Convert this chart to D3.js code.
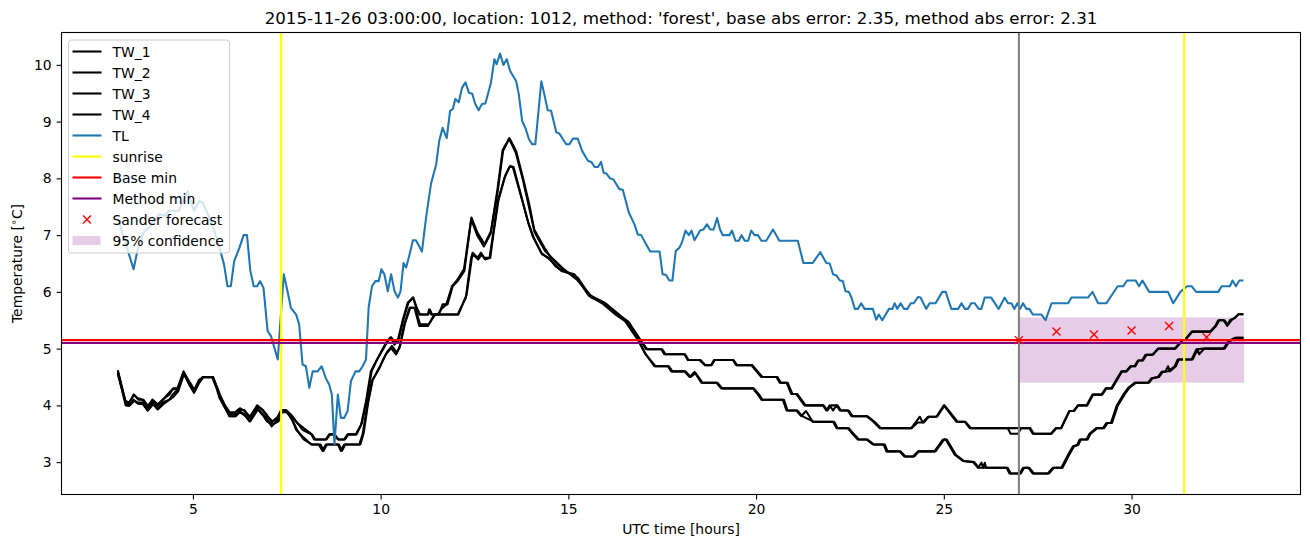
<!DOCTYPE html>
<html><head><meta charset="utf-8">
<script src="https://cdn.jsdelivr.net/npm/d3@7"></script>
<style>
html,body{margin:0;padding:0;background:#fff;}
svg{display:block;font-family:"DejaVu Sans",sans-serif;}
</style></head>
<body><svg id="chart" width="1310" height="547"></svg>
<script>
const titleText = "2015-11-26 03:00:00, location: 1012, method: 'forest', base abs error: 2.35, method abs error: 2.31";
const xTicks = [5, 10, 15, 20, 25, 30];
const yTicks = [3, 4, 5, 6, 7, 8, 9, 10];
const sunrise = [7.35, 31.4];
const forecastStart = 27.0;
const baseMin = 5.15;
const methodMin = 5.10;
const sanderHours = [27, 28, 29, 30, 31, 32];
const sanderValues = [5.15, 5.30, 5.25, 5.32, 5.40, 5.20];
const confHours = [27.0, 33.0];
const confLow = 4.40;
const confHigh = 5.55;

const TL = [[3.00,7.30],[3.42,6.40],[3.52,6.72],[3.70,7.07],[3.84,7.13],[3.97,7.25],[4.10,7.37],[4.24,7.34],[4.37,7.43],[4.63,7.43],[4.86,7.78],[5.03,7.43],[5.17,7.60],[5.26,7.57],[5.48,7.25],[5.66,6.90],[5.83,6.48],[5.92,6.10],[6.01,6.10],[6.10,6.54],[6.24,6.78],[6.35,7.00],[6.44,7.00],[6.53,6.37],[6.62,6.10],[6.71,6.10],[6.79,6.19],[6.88,6.07],[6.99,5.31],[7.08,5.22],[7.26,4.81],[7.42,6.31],[7.52,6.01],[7.61,5.72],[7.75,5.60],[7.83,5.43],[7.92,4.72],[8.01,4.69],[8.10,4.31],[8.19,4.60],[8.32,4.60],[8.43,4.69],[8.54,4.48],[8.63,4.37],[8.70,4.19],[8.77,3.31],[8.86,4.19],[8.94,3.78],[9.03,3.78],[9.12,3.90],[9.21,4.43],[9.33,4.60],[9.43,4.60],[9.52,4.69],[9.61,4.81],[9.68,5.72],[9.77,6.10],[9.86,6.19],[9.95,6.19],[10.02,6.40],[10.10,6.31],[10.19,6.01],[10.28,6.31],[10.37,6.01],[10.46,5.90],[10.53,6.01],[10.61,6.51],[10.68,6.43],[10.77,6.66],[10.86,6.91],[10.94,6.91],[11.10,6.71],[11.21,7.31],[11.34,7.90],[11.48,8.25],[11.56,8.66],[11.65,8.89],[11.76,8.71],[11.85,9.19],[11.92,9.22],[11.99,9.40],[12.08,9.34],[12.17,9.60],[12.26,9.69],[12.35,9.51],[12.44,9.49],[12.52,9.31],[12.61,9.20],[12.70,9.31],[12.79,9.32],[12.94,9.69],[13.03,10.10],[13.09,10.01],[13.18,10.20],[13.27,10.00],[13.36,10.10],[13.45,9.89],[13.61,9.71],[13.68,9.48],[13.77,9.01],[13.86,8.88],[13.95,8.69],[14.04,8.60],[14.12,8.60],[14.28,9.71],[14.36,9.48],[14.45,9.20],[14.54,9.19],[14.68,8.81],[14.76,8.79],[14.94,8.60],[15.03,8.60],[15.12,8.70],[15.25,8.70],[15.37,8.48],[15.52,8.31],[15.61,8.29],[15.70,8.20],[15.79,8.20],[15.87,8.29],[15.94,8.10],[16.02,8.08],[16.11,8.00],[16.20,7.98],[16.36,7.81],[16.45,7.80],[16.61,7.40],[16.76,7.19],[16.85,7.01],[16.94,7.00],[17.07,6.84],[17.18,6.71],[17.43,6.71],[17.51,6.31],[17.60,6.30],[17.69,6.20],[17.77,6.20],[17.86,6.72],[17.96,6.78],[18.03,6.88],[18.12,7.08],[18.21,7.00],[18.28,7.08],[18.36,6.91],[18.51,7.08],[18.60,7.10],[18.69,7.19],[18.78,7.10],[18.87,7.10],[18.96,7.30],[19.04,7.10],[19.11,7.00],[19.29,7.00],[19.36,7.08],[19.45,6.90],[19.54,6.90],[19.61,7.00],[19.70,6.90],[19.79,6.90],[19.87,7.08],[19.96,7.00],[20.05,7.00],[20.14,6.90],[20.27,6.90],[20.45,7.10],[20.62,6.90],[21.11,6.90],[21.26,6.51],[21.51,6.51],[21.71,6.70],[21.87,6.51],[21.96,6.50],[22.05,6.31],[22.14,6.29],[22.23,6.20],[22.31,6.19],[22.38,6.01],[22.47,6.00],[22.54,5.90],[22.63,5.70],[22.71,5.70],[22.80,5.80],[22.89,5.70],[23.11,5.70],[23.20,5.51],[23.27,5.60],[23.36,5.50],[23.54,5.70],[23.63,5.70],[23.69,5.80],[23.76,5.70],[23.85,5.80],[23.94,5.70],[24.03,5.70],[24.12,5.80],[24.20,5.80],[24.31,5.91],[24.38,5.90],[24.53,5.70],[24.62,5.80],[24.78,5.80],[24.96,6.00],[25.05,6.00],[25.20,5.70],[25.38,5.70],[25.47,5.80],[25.56,5.70],[25.64,5.70],[25.73,5.80],[25.82,5.80],[25.93,5.70],[26.00,5.70],[26.09,5.90],[26.26,5.90],[26.46,5.70],[26.62,5.90],[26.71,5.80],[26.80,5.80],[26.88,5.70],[26.96,5.80],[27.03,5.70],[27.11,5.80],[27.20,5.70],[27.28,5.70],[27.37,5.60],[27.60,5.60],[27.71,5.50],[27.87,5.80],[28.31,5.80],[28.40,5.90],[28.84,5.90],[28.96,6.00],[29.11,5.80],[29.33,5.80],[29.63,6.10],[29.78,6.10],[29.88,6.20],[30.11,6.20],[30.20,6.10],[30.29,6.20],[30.47,6.00],[30.97,6.00],[31.11,5.80],[31.30,6.00],[31.48,6.10],[31.60,6.10],[31.72,6.00],[32.31,6.00],[32.40,6.10],[32.62,6.10],[32.69,6.20],[32.78,6.10],[32.87,6.20],[32.98,6.20]];

const TW_1 = [[3.00,4.62],[3.21,4.05],[3.30,4.02],[3.42,4.19],[3.52,4.13],[3.66,4.10],[3.79,3.95],[3.92,4.10],[4.06,3.99],[4.19,4.10],[4.37,4.19],[4.46,4.28],[4.59,4.30],[4.75,4.60],[4.90,4.40],[5.03,4.25],[5.14,4.40],[5.26,4.50],[5.52,4.50],[5.64,4.31],[5.70,4.19],[5.83,4.03],[5.97,3.85],[6.12,3.85],[6.23,3.92],[6.37,3.92],[6.50,3.78],[6.71,4.00],[6.86,3.92],[6.95,3.85],[7.10,3.70],[7.26,3.80],[7.35,3.92],[7.48,3.92],[7.61,3.84],[7.75,3.72],[7.92,3.57],[8.15,3.49],[8.23,3.40],[8.54,3.40],[8.63,3.49],[8.75,3.49],[8.86,3.40],[9.03,3.40],[9.12,3.49],[9.34,3.49],[9.48,3.66],[9.61,4.07],[9.74,4.60],[9.88,4.78],[10.14,5.10],[10.26,5.20],[10.37,5.07],[10.45,5.13],[10.58,5.48],[10.72,5.81],[10.86,5.90],[10.94,5.75],[11.03,5.60],[11.26,5.60],[11.29,5.69],[11.35,5.60],[11.55,5.60],[11.65,5.78],[11.78,5.78],[11.92,6.10],[12.05,6.19],[12.23,6.37],[12.42,7.31],[12.58,7.04],[12.77,6.84],[12.94,7.07],[13.12,7.78],[13.26,8.48],[13.43,8.71],[13.61,8.48],[13.79,8.01],[13.96,7.54],[14.09,7.10],[14.36,6.78],[14.54,6.60],[14.90,6.37],[15.25,6.25],[15.61,5.90],[15.96,5.81],[16.32,5.60],[16.59,5.48],[16.94,5.13],[17.07,4.99],[17.47,4.99],[17.56,4.90],[18.09,4.90],[18.18,4.80],[18.49,4.80],[18.63,4.71],[18.80,4.71],[18.88,4.80],[19.38,4.80],[19.47,4.71],[19.87,4.71],[20.01,4.60],[20.14,4.50],[20.54,4.50],[20.63,4.40],[20.81,4.40],[20.94,4.20],[21.07,4.20],[21.29,4.00],[21.78,4.00],[21.87,3.91],[21.96,4.00],[22.05,3.91],[22.14,4.00],[22.23,3.91],[22.44,3.91],[22.54,3.81],[22.94,3.81],[23.11,3.72],[23.29,3.60],[24.13,3.60],[24.27,3.72],[24.36,3.80],[24.44,3.70],[24.58,3.80],[24.80,3.80],[25.00,4.00],[25.23,3.80],[25.34,3.71],[25.56,3.71],[25.69,3.60],[27.28,3.60],[27.37,3.50],[27.87,3.50],[28.00,3.60],[28.13,3.60],[28.35,3.90],[28.45,3.90],[28.57,4.00],[28.80,4.00],[28.96,4.19],[29.20,4.19],[29.31,4.30],[29.46,4.30],[29.73,4.60],[29.85,4.60],[29.97,4.69],[30.08,4.69],[30.17,4.79],[30.28,4.79],[30.37,4.89],[30.55,4.89],[30.70,5.00],[31.15,5.00],[31.28,5.10],[31.46,5.19],[31.60,5.30],[32.09,5.30],[32.23,5.40],[32.31,5.50],[32.45,5.50],[32.55,5.40],[32.62,5.50],[32.75,5.54],[32.84,5.60],[32.98,5.60]];

const TW_2 = [[3.00,4.60],[3.20,4.08],[3.30,4.05],[3.43,4.19],[3.55,4.10],[3.68,4.10],[3.80,3.99],[3.93,4.10],[4.06,4.02],[4.20,4.10],[4.36,4.22],[4.47,4.30],[4.60,4.30],[4.76,4.58],[4.92,4.40],[5.04,4.28],[5.16,4.45],[5.28,4.50],[5.53,4.50],[5.65,4.31],[5.72,4.19],[5.85,4.00],[5.98,3.88],[6.12,3.88],[6.25,3.95],[6.38,3.90],[6.52,3.80],[6.72,3.99],[6.88,3.90],[6.97,3.81],[7.12,3.72],[7.27,3.78],[7.37,3.90],[7.50,3.90],[7.64,3.80],[7.78,3.69],[7.95,3.60],[8.17,3.49],[8.26,3.40],[8.56,3.40],[8.65,3.49],[8.77,3.49],[8.88,3.40],[9.05,3.40],[9.14,3.49],[9.36,3.49],[9.50,3.69],[9.63,4.10],[9.76,4.60],[9.90,4.80],[10.16,5.10],[10.28,5.20],[10.39,5.10],[10.47,5.13],[10.60,5.50],[10.74,5.81],[10.87,5.90],[10.96,5.72],[11.05,5.60],[11.27,5.60],[11.31,5.69],[11.37,5.60],[11.52,5.60],[11.62,5.70],[11.75,5.78],[11.90,6.10],[12.03,6.20],[12.22,6.40],[12.41,7.28],[12.57,7.00],[12.75,6.80],[12.93,7.03],[13.11,7.80],[13.25,8.50],[13.42,8.70],[13.60,8.45],[13.78,8.00],[13.95,7.50],[14.10,7.05],[14.38,6.72],[14.56,6.60],[14.88,6.40],[15.22,6.22],[15.64,5.90],[15.99,5.80],[16.35,5.60],[16.62,5.45],[16.97,5.10],[17.10,4.99],[17.50,4.99],[17.59,4.90],[18.11,4.90],[18.20,4.80],[18.52,4.80],[18.65,4.71],[18.82,4.71],[18.90,4.80],[19.40,4.80],[19.49,4.71],[19.90,4.71],[20.04,4.60],[20.17,4.50],[20.57,4.50],[20.66,4.40],[20.84,4.40],[20.97,4.20],[21.10,4.20],[21.32,4.00],[21.80,4.00],[21.90,3.91],[22.00,4.00],[22.17,4.00],[22.26,3.91],[22.47,3.91],[22.57,3.81],[22.96,3.81],[23.14,3.72],[23.32,3.60],[24.15,3.60],[24.30,3.70],[24.47,3.70],[24.60,3.80],[24.82,3.80],[25.02,4.00],[25.26,3.80],[25.37,3.71],[25.58,3.71],[25.72,3.60],[26.70,3.60],[26.78,3.50],[26.98,3.50],[27.06,3.60],[27.30,3.60],[27.40,3.50],[27.85,3.50],[27.98,3.60],[28.12,3.60],[28.34,3.90],[28.47,3.90],[28.58,4.00],[28.82,4.00],[28.98,4.19],[29.22,4.19],[29.33,4.30],[29.48,4.30],[29.75,4.60],[29.87,4.60],[29.99,4.69],[30.10,4.69],[30.19,4.79],[30.30,4.79],[30.40,4.89],[30.57,4.89],[30.72,5.00],[31.17,5.00],[31.30,5.10],[31.48,5.19],[31.62,5.30],[32.11,5.30],[32.25,5.40],[32.34,5.50],[32.47,5.50],[32.57,5.42],[32.66,5.50],[32.78,5.56],[32.86,5.61],[32.98,5.61]];

const TW_3 = [[3.00,4.58],[3.21,4.00],[3.30,3.99],[3.42,4.10],[3.52,4.05],[3.66,4.05],[3.79,3.91],[3.92,4.05],[4.06,3.93],[4.19,4.05],[4.37,4.10],[4.46,4.19],[4.59,4.28],[4.75,4.58],[4.90,4.37],[5.03,4.22],[5.14,4.37],[5.26,4.49],[5.52,4.49],[5.64,4.28],[5.70,4.15],[5.83,4.00],[5.97,3.81],[6.12,3.81],[6.23,3.90],[6.37,3.85],[6.50,3.72],[6.71,3.95],[6.86,3.85],[6.95,3.78],[7.10,3.63],[7.26,3.75],[7.35,3.90],[7.48,3.90],[7.61,3.80],[7.75,3.57],[7.92,3.45],[8.15,3.31],[8.35,3.31],[8.45,3.20],[8.54,3.31],[8.86,3.31],[8.94,3.20],[9.03,3.31],[9.43,3.31],[9.52,3.49],[9.65,4.02],[9.77,4.43],[9.97,4.66],[10.14,4.90],[10.28,5.01],[10.41,4.90],[10.50,5.01],[10.63,5.43],[10.77,5.72],[10.90,5.72],[11.03,5.40],[11.26,5.40],[11.43,5.60],[12.05,5.60],[12.27,5.90],[12.41,6.60],[12.45,6.69],[12.58,6.60],[12.67,6.69],[12.76,6.60],[12.90,6.60],[12.98,6.95],[13.12,7.60],[13.30,8.01],[13.43,8.20],[13.52,8.20],[13.70,7.78],[13.92,7.25],[14.05,6.98],[14.28,6.69],[14.45,6.60],[14.63,6.49],[14.81,6.37],[15.16,6.31],[15.52,5.96],[15.87,5.84],[16.23,5.63],[16.49,5.51],[16.85,5.16],[17.03,4.93],[17.29,4.69],[17.65,4.69],[17.74,4.60],[18.09,4.60],[18.23,4.50],[18.36,4.59],[18.54,4.40],[18.94,4.40],[19.07,4.30],[19.91,4.30],[20.05,4.19],[20.14,4.10],[20.71,4.10],[20.81,3.91],[21.07,3.91],[21.20,3.81],[21.33,3.90],[21.51,3.71],[22.05,3.71],[22.14,3.60],[22.44,3.60],[22.58,3.49],[22.71,3.40],[22.94,3.40],[23.11,3.31],[23.40,3.31],[23.47,3.19],[23.82,3.19],[23.95,3.10],[24.18,3.10],[24.31,3.19],[24.75,3.19],[24.98,3.40],[25.05,3.40],[25.29,3.13],[25.51,3.02],[25.78,3.00],[25.91,2.90],[26.00,2.99],[26.05,2.90],[26.09,2.99],[26.13,2.90],[26.67,2.90],[26.75,2.80],[27.02,2.80],[27.11,2.90],[27.25,2.90],[27.37,2.80],[27.77,2.80],[27.90,2.90],[28.13,2.90],[28.31,3.13],[28.44,3.28],[28.55,3.30],[28.62,3.40],[28.80,3.40],[28.88,3.50],[29.06,3.60],[29.24,3.60],[29.33,3.69],[29.45,3.69],[29.60,3.99],[29.78,4.19],[29.91,4.31],[30.09,4.40],[30.44,4.40],[30.53,4.48],[30.70,4.50],[30.80,4.59],[30.97,4.60],[31.15,4.69],[31.23,4.81],[31.60,4.81],[31.73,4.99],[31.91,5.00],[32.45,5.00],[32.58,5.13],[32.75,5.19],[32.98,5.19]];

const TW_4 = [[3.00,4.55],[3.22,4.02],[3.32,4.00],[3.44,4.08],[3.54,4.03],[3.67,4.02],[3.80,3.91],[3.94,4.02],[4.07,3.93],[4.21,4.02],[4.38,4.10],[4.48,4.15],[4.61,4.25],[4.76,4.55],[4.92,4.35],[5.05,4.25],[5.16,4.40],[5.28,4.50],[5.54,4.50],[5.66,4.28],[5.72,4.12],[5.85,3.96],[5.99,3.81],[6.14,3.81],[6.25,3.88],[6.40,3.81],[6.53,3.72],[6.73,3.93],[6.88,3.81],[6.97,3.72],[7.12,3.66],[7.28,3.72],[7.37,3.88],[7.50,3.88],[7.64,3.75],[7.79,3.55],[7.95,3.40],[8.18,3.31],[8.40,3.31],[8.48,3.20],[8.57,3.31],[8.89,3.31],[8.97,3.20],[9.06,3.31],[9.46,3.31],[9.55,3.52],[9.67,4.06],[9.79,4.45],[9.99,4.70],[10.16,4.93],[10.30,5.05],[10.43,4.93],[10.52,5.05],[10.65,5.45],[10.79,5.72],[10.92,5.72],[11.05,5.43],[11.28,5.43],[11.45,5.60],[12.07,5.60],[12.29,5.95],[12.43,6.60],[12.47,6.66],[12.60,6.57],[12.69,6.66],[12.78,6.57],[12.92,6.60],[13.00,7.00],[13.14,7.62],[13.32,8.05],[13.45,8.22],[13.54,8.20],[13.72,7.75],[13.94,7.20],[14.08,6.95],[14.30,6.66],[14.48,6.60],[14.66,6.45],[14.84,6.37],[15.19,6.28],[15.55,5.93],[15.90,5.80],[16.26,5.60],[16.52,5.48],[16.88,5.13],[17.06,4.90],[17.32,4.69],[17.68,4.69],[17.77,4.60],[18.12,4.60],[18.26,4.50],[18.39,4.57],[18.57,4.40],[18.97,4.40],[19.10,4.30],[19.94,4.30],[20.08,4.19],[20.17,4.10],[20.74,4.10],[20.84,3.91],[21.10,3.91],[21.23,3.81],[21.54,3.71],[22.08,3.71],[22.17,3.60],[22.47,3.60],[22.61,3.49],[22.74,3.40],[22.97,3.40],[23.14,3.31],[23.43,3.31],[23.50,3.19],[23.85,3.19],[23.98,3.10],[24.21,3.10],[24.34,3.19],[24.78,3.19],[25.01,3.40],[25.08,3.40],[25.32,3.13],[25.54,3.02],[25.81,3.00],[25.94,2.90],[26.16,2.90],[26.70,2.90],[26.78,2.80],[27.05,2.80],[27.14,2.90],[27.28,2.90],[27.40,2.80],[27.80,2.80],[27.93,2.90],[28.16,2.90],[28.34,3.13],[28.47,3.28],[28.58,3.30],[28.65,3.40],[28.83,3.40],[28.91,3.50],[29.09,3.60],[29.27,3.60],[29.36,3.69],[29.48,3.69],[29.63,3.99],[29.81,4.19],[29.94,4.31],[30.12,4.40],[30.47,4.40],[30.56,4.48],[30.73,4.50],[30.83,4.59],[30.90,4.59],[30.97,4.69],[31.02,4.60],[31.18,4.69],[31.26,4.81],[31.63,4.81],[31.76,4.99],[31.80,4.90],[31.94,5.00],[32.48,5.00],[32.61,5.13],[32.78,5.19],[32.98,5.19]];

const legendLabels = ["TW_1","TW_2","TW_3","TW_4","TL","sunrise","Base min","Method min","Sander forecast","95% confidence"];

// ---------- drawing ----------
const W = 1310, H = 547;
const m = {left: 61.5, right: 1300.5, top: 32.5, bottom: 494.5};
const svg = d3.select("#chart");
const x = d3.scaleLinear().domain([1.5, 34.5]).range([m.left, m.right]);
const y = d3.scaleLinear().domain([2.43, 10.57]).range([m.bottom, m.top]);
const FS = 13.9;

const clipId = "plotclip";
svg.append("defs").append("clipPath").attr("id", clipId)
  .append("rect").attr("x", m.left).attr("y", m.top)
  .attr("width", m.right - m.left).attr("height", m.bottom - m.top);

const plot = svg.append("g").attr("clip-path", `url(#${clipId})`);

// confidence band
plot.append("rect")
  .attr("x", x(confHours[0])).attr("width", x(confHours[1]) - x(confHours[0]))
  .attr("y", y(confHigh)).attr("height", y(confLow) - y(confHigh))
  .attr("fill", "purple").attr("fill-opacity", 0.2);

const line = d3.line().x(d => x(d[0])).y(d => y(d[1]));
[TW_1, TW_2, TW_3, TW_4].forEach(s => {
  plot.append("path").datum(s).attr("d", line)
    .attr("fill", "none").attr("stroke", "#000").attr("stroke-width", 2.08)
    .attr("stroke-linejoin", "round").attr("stroke-linecap", "butt");
});
plot.append("path").datum(TL).attr("d", line)
  .attr("fill", "none").attr("stroke", "#1f77b4").attr("stroke-width", 2.08)
  .attr("stroke-linejoin", "round");

sunrise.forEach(h => {
  plot.append("line").attr("x1", x(h)).attr("x2", x(h))
    .attr("y1", m.top).attr("y2", m.bottom)
    .attr("stroke", "yellow").attr("stroke-width", 2.08);
});
plot.append("line").attr("x1", m.left).attr("x2", m.right)
  .attr("y1", y(baseMin)).attr("y2", y(baseMin))
  .attr("stroke", "red").attr("stroke-width", 2.08);
plot.append("line").attr("x1", m.left).attr("x2", m.right)
  .attr("y1", y(methodMin)).attr("y2", y(methodMin))
  .attr("stroke", "purple").attr("stroke-width", 2.08);
plot.append("line").attr("x1", x(forecastStart)).attr("x2", x(forecastStart))
  .attr("y1", m.top).attr("y2", m.bottom)
  .attr("stroke", "gray").attr("stroke-width", 2.08);

const xMark = (g, cx, cy) => {
  const r = 4;
  g.append("path").attr("d", `M${cx-r},${cy-r}L${cx+r},${cy+r}M${cx-r},${cy+r}L${cx+r},${cy-r}`)
    .attr("stroke", "red").attr("stroke-width", 1.4).attr("fill", "none");
};
sanderHours.forEach((h, i) => xMark(plot, x(h), y(sanderValues[i])));

// axes
const xAxis = d3.axisBottom(x).tickValues(xTicks).tickSize(4.9).tickPadding(4.9).tickFormat(d3.format("d"));
const yAxis = d3.axisLeft(y).tickValues(yTicks).tickSize(4.9).tickPadding(4.9).tickFormat(d3.format("d"));
const gx = svg.append("g").attr("transform", `translate(0,${m.bottom})`).call(xAxis);
const gy = svg.append("g").attr("transform", `translate(${m.left},0)`).call(yAxis);
[gx, gy].forEach(g => {
  g.select(".domain").remove();
  g.selectAll("text").attr("font-size", FS).attr("fill", "#000").attr("font-family", "DejaVu Sans");
  g.selectAll("line").attr("stroke", "#000").attr("stroke-width", 1.1);
});
svg.append("rect").attr("x", m.left).attr("y", m.top)
  .attr("width", m.right - m.left).attr("height", m.bottom - m.top)
  .attr("fill", "none").attr("stroke", "#000").attr("stroke-width", 1.1);

// labels
svg.append("text").attr("x", (m.left + m.right) / 2).attr("y", 534)
  .attr("text-anchor", "middle").attr("font-size", FS).text("UTC time [hours]");
const yl = svg.append("text").attr("transform", `translate(22,${(m.top + m.bottom) / 2}) rotate(-90)`)
  .attr("text-anchor", "middle").attr("font-size", FS);
yl.append("tspan").text("Temperature [");
yl.append("tspan").attr("dy", -5).attr("font-size", FS * 0.7).text("∘");
yl.append("tspan").attr("dy", 5).text("C]");
svg.append("text").attr("x", (m.left + m.right) / 2).attr("y", 24)
  .attr("text-anchor", "middle").attr("font-size", 16.7).text(titleText);

// legend
const lg = svg.append("g");
lg.append("rect").attr("x", 68.5).attr("y", 40).attr("width", 161).attr("height", 213)
  .attr("rx", 3).attr("fill", "#fff").attr("fill-opacity", 0.8)
  .attr("stroke", "#ccc").attr("stroke-width", 1);
const handleStyles = [
  {c: "#000", t: "line"}, {c: "#000", t: "line"}, {c: "#000", t: "line"}, {c: "#000", t: "line"},
  {c: "#1f77b4", t: "line"}, {c: "yellow", t: "line"}, {c: "red", t: "line"}, {c: "purple", t: "line"},
  {c: "red", t: "x"}, {c: "purple", t: "patch"}
];
legendLabels.forEach((lab, i) => {
  const cy = 51.5 + i * 21;
  const hs = handleStyles[i];
  if (hs.t === "line") {
    lg.append("line").attr("x1", 72.5).attr("x2", 101.5).attr("y1", cy).attr("y2", cy)
      .attr("stroke", hs.c).attr("stroke-width", 2.08);
  } else if (hs.t === "x") {
    xMark(lg, 87, cy);
  } else {
    lg.append("rect").attr("x", 72.5).attr("y", cy - 4.5).attr("width", 28).attr("height", 9)
      .attr("fill", hs.c).attr("fill-opacity", 0.2);
  }
  lg.append("text").attr("x", 112.5).attr("y", cy + 5).attr("font-size", FS).text(lab);
});
</script>
</body></html>
